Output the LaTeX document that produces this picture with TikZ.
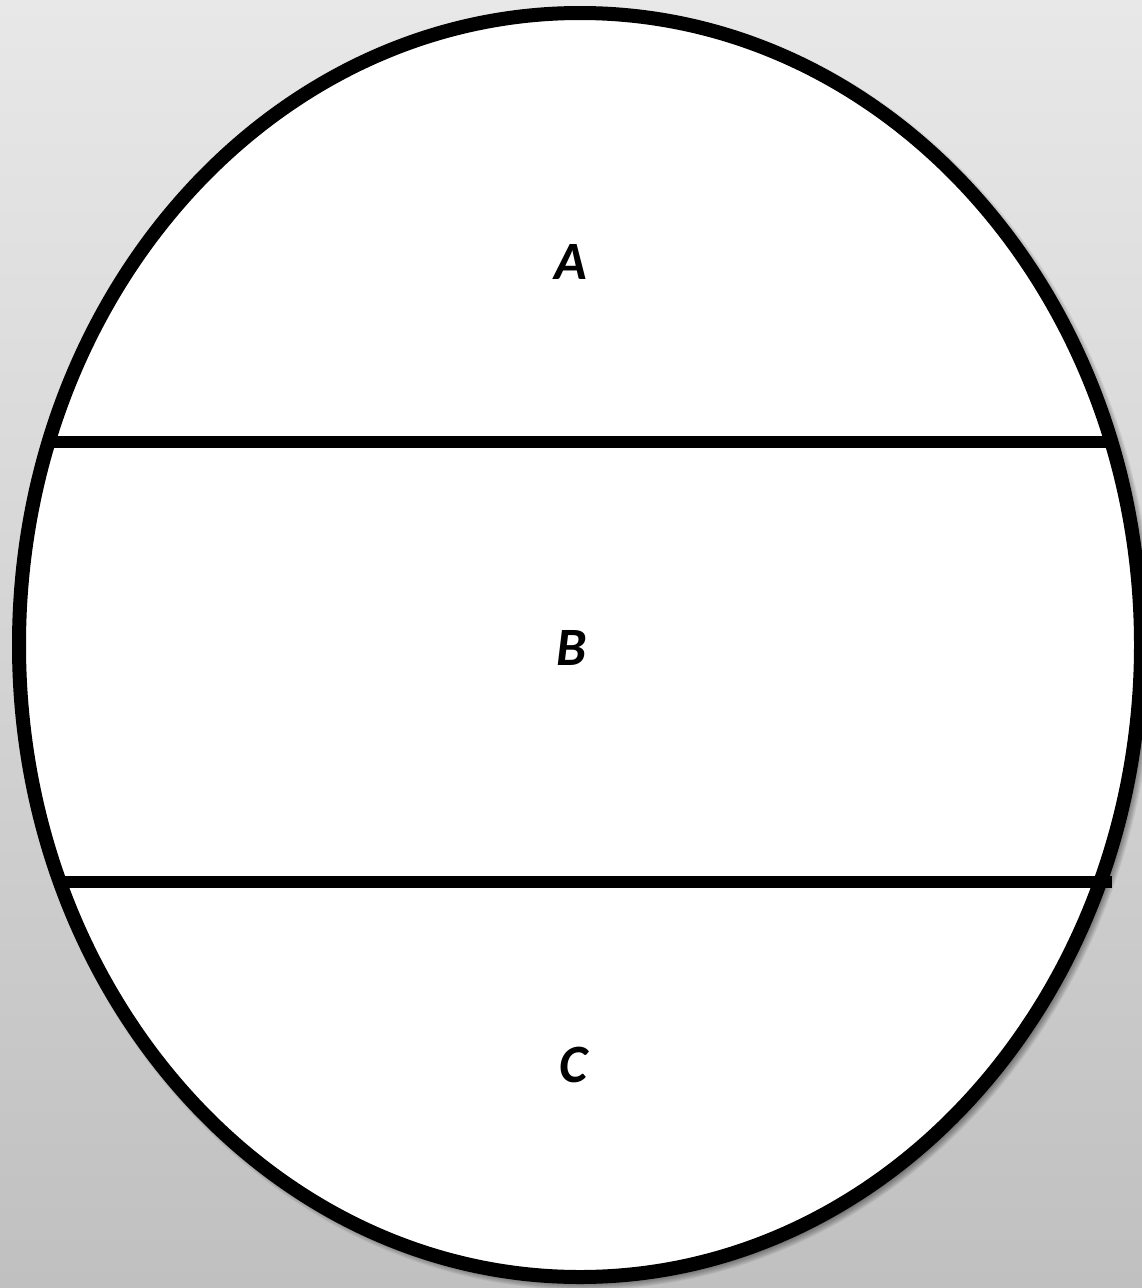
\documentclass[tikz,border=0pt]{standalone}
\usepackage{fontspec}
\setmainfont{Carlito}
\begin{document}
\begin{tikzpicture}[x=1pt,y=-1pt,
  outline/.style={draw=black,line width=14pt},
  divider/.style={draw=black,line width=12pt},
  lbl/.style={font=\fontsize{54}{60}\selectfont\bfseries\itshape,text=black,inner sep=0pt}]
\useasboundingbox (0,0) rectangle (1142,1288);
\shade[top color={rgb,255:red,232;green,232;blue,232},bottom color={rgb,255:red,192;green,192;blue,192}] (0,0) rectangle (1142,1288);
% shadow
\foreach \i in {0,...,7}{
  \fill[black,opacity=0.06] (584,649) ellipse ({563+\i} and {634+\i});
}
\fill[white] (580,645) ellipse (561 and 632);
\coordinate (l1a) at (50,442);
\coordinate (l1b) at (1108,442);
\coordinate (l2a) at (58,882);
\coordinate (l2b) at (1112,882);
\draw[divider] (l1a) -- (l1b);
\draw[divider] (l2a) -- (l2b);
\draw[outline] (580,645) ellipse (561 and 632);
\node[lbl] (A) at (571,262) {A};
\node[lbl] (B) at (572,648) {B};
\node[lbl] (C) at (573,1065) {C};
\end{tikzpicture}
\end{document}
